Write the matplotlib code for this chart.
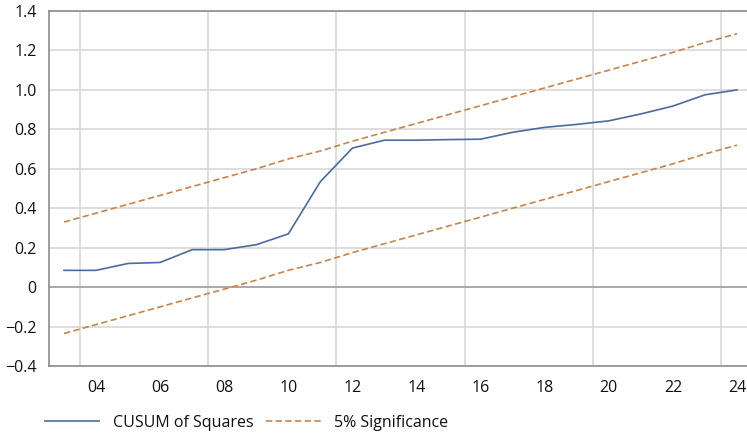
import matplotlib
matplotlib.use('Agg')
import matplotlib.pyplot as plt
from matplotlib.ticker import FixedLocator, FuncFormatter

plt.rcParams['font.family'] = ['Open Sans', 'DejaVu Sans']

# data
years = list(range(2003, 2025))
cusum_sq = [0.085, 0.085, 0.12, 0.125, 0.19, 0.19, 0.215, 0.27, 0.535, 0.705, 0.745,
            0.745, 0.748, 0.75, 0.785, 0.81, 0.825, 0.843, 0.878, 0.918, 0.975, 1.0]
upper_5 = [0.33, 0.375, 0.42, 0.465, 0.51, 0.555, 0.60, 0.65, 0.69, 0.74, 0.785,
           0.83, 0.875, 0.92, 0.965, 1.01, 1.055, 1.10, 1.145, 1.19, 1.24, 1.285]
lower_5 = [-0.235, -0.19, -0.145, -0.10, -0.055, -0.01, 0.035, 0.085, 0.125, 0.175, 0.22,
           0.265, 0.31, 0.355, 0.40, 0.445, 0.49, 0.535, 0.58, 0.625, 0.675, 0.72]
tick_years = list(range(2004, 2025, 2))
tick_labels = [f"{y % 100:02d}" for y in tick_years]
grid_years = [2003.5, 2007.5, 2011.5, 2015.5, 2019.5, 2023.5]

blue = '#4a6b9d'
orange = '#c9834b'

fig = plt.figure(figsize=(7.47, 4.34), dpi=100)
ax = fig.add_axes([49 / 747, 68 / 434, 698 / 747, 355 / 434])

ax.plot(years, cusum_sq, color=blue, lw=1.2, label='CUSUM of Squares')
ax.plot(years, upper_5, color=orange, lw=1.2, dashes=(3.8, 2), label='5% Significance')
ax.plot(years, lower_5, color=orange, lw=1.2, dashes=(3.8, 2))

ax.set_xlim(2003 - 15 / 32, 2024 + 10 / 32)
ax.set_ylim(-0.4, 1.4)

ax.xaxis.set_major_locator(FixedLocator(tick_years))
ax.set_xticklabels(tick_labels)
ax.xaxis.set_minor_locator(FixedLocator(grid_years))
ax.set_yticks([-0.4, -0.2, 0, 0.2, 0.4, 0.6, 0.8, 1.0, 1.2, 1.4])
ax.yaxis.set_major_formatter(FuncFormatter(lambda v, p: '0' if abs(v) < 1e-9 else f"{v:.1f}".replace('-', '\u2212')))

ax.grid(True, axis='y', which='major', color='#d4d4d4', lw=1.1)
ax.grid(True, axis='x', which='minor', color='#d4d4d4', lw=1.1)
ax.grid(False, axis='x', which='major')
ax.axhline(0, color='#a0a0a0', lw=1.2, zorder=1)
ax.set_axisbelow(True)

ax.tick_params(which='both', length=0, labelsize=11.5, colors='#111111')
ax.tick_params(axis='y', pad=9)
ax.tick_params(axis='x', pad=10)

for side in ['left', 'bottom', 'top']:
    ax.spines[side].set_color('#8c8c8c')
    ax.spines[side].set_linewidth(1.2)
ax.spines['right'].set_visible(False)

fig.legend(loc='center left', bbox_to_anchor=(45 / 747, 1 - 423 / 434), ncol=2, frameon=False,
           fontsize=11.5, handlelength=3.4, handletextpad=0.85, columnspacing=0.8, borderpad=0,
           borderaxespad=0, labelcolor='#111111')

fig.savefig('out.png', dpi=100)
